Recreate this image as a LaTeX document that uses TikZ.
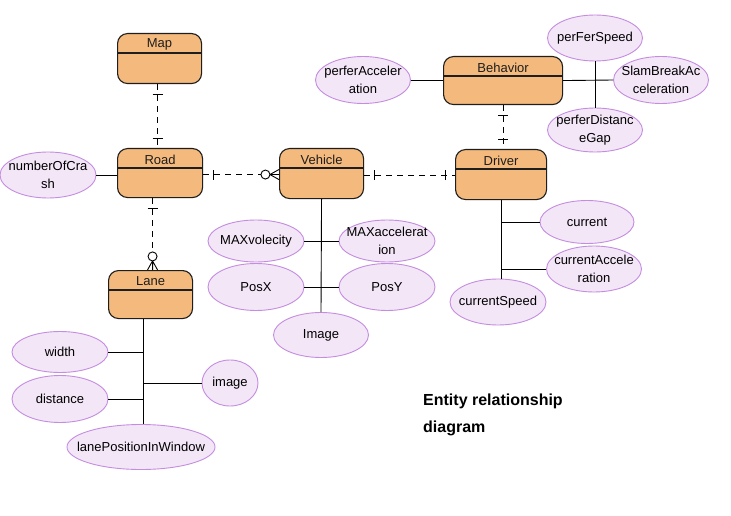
\documentclass[tikz,border=0pt]{standalone}
\usepackage{fontspec}
\setmainfont{Liberation Sans}
\usetikzlibrary{shapes.geometric,decorations.markings}
\definecolor{entfill}{HTML}{F4B97C}
\definecolor{attrfill}{HTML}{F3E6F7}
\definecolor{attrdraw}{HTML}{C58DE0}
\definecolor{edgecol}{HTML}{1E1E1E}
\tikzset{
 entity/.style={rectangle, draw=edgecol, line width=1.1pt, fill=entfill, rounded corners=10pt, inner sep=0pt, anchor=north west},
 enttext/.style={font=\fontsize{13}{15}\selectfont, inner sep=0pt, text=edgecol},
 attr/.style={ellipse, draw=attrdraw, line width=0.9pt, fill=attrfill, inner sep=0pt},
 attrtext/.style={font=\fontsize{13}{18}\selectfont, align=center, inner sep=0pt},
 conn/.style={draw=black, line width=0.9pt},
 reldash/.style={draw=black, line width=0.9pt, dash pattern=on 6pt off 5pt},
 rel11/.style={reldash, postaction={decorate, decoration={markings,
   mark=at position 10pt with {\draw[solid, line width=0.9pt] (0,-5pt) -- (0,5pt);},
   mark=at position -10pt with {\draw[solid, line width=0.9pt] (0,-5pt) -- (0,5pt);}}}},
 rel1zn/.style={reldash, postaction={decorate, decoration={markings,
   mark=at position 10pt with {\draw[solid, line width=0.9pt] (0,-5pt) -- (0,5pt);},
   mark=at position 0.999 with {\draw[solid, line width=0.9pt] (-9pt,0) -- (0,5pt) (-9pt,0) -- (0,-5pt) (-9pt,0) -- (0,0);
      \draw[solid, line width=0.9pt, fill=white] (-13.5pt,0) circle (4.5pt);}}}},
 titletext/.style={font=\bfseries\fontsize{16}{20}\selectfont, inner sep=0pt, anchor=base west}
}
\newcommand\erent[6]{%
 \node[entity, minimum width=#4pt, minimum height=#5pt] (#1) at (#2,#3) {};
 \draw[draw=edgecol, line width=1.1pt] ([yshift=-20pt]#1.north west) -- ([yshift=-20pt]#1.north east);
 \node[enttext] (#1-t) at ([yshift=-11.5pt]#1.north) {#6};}
\newcommand\erattr[6]{%
 \node[attr, minimum width=#4pt, minimum height=#5pt] (#1) at (#2,#3) {};
 \node[attrtext] (#1-t) at (#1.center) {#6};}
\begin{document}
\begin{tikzpicture}[x=1pt,y=-1pt]
\useasboundingbox[fill=white] (0,0) rectangle (731,516);
% entities
\erent{map}{117}{33}{84}{50}{Map}
\erent{road}{117}{148}{85}{49}{Road}
\erent{veh}{279}{148}{84}{50}{Vehicle}
\erent{drv}{455}{149}{91}{50}{Driver}
\erent{beh}{443}{56}{119}{48}{Behavior}
\erent{lane}{108}{270}{84}{48}{Lane}
% attributes
\erattr{noc}{48}{175}{96}{46}{numberOfCra\\sh}
\erattr{pa}{363}{80}{95}{47}{perferAcceler\\ation}
\erattr{pfs}{595}{38}{95}{46}{perFerSpeed}
\erattr{slam}{661}{80}{95}{47}{SlamBreakAc\\celeration}
\erattr{pdg}{595}{130}{95}{44}{perferDistanc\\eGap}
\erattr{mv}{256}{241}{96}{42}{MAXvolecity}
\erattr{ma}{387}{241}{96}{42}{MAXaccelerat\\ion}
\erattr{px}{256}{287}{96}{47}{PosX}
\erattr{py}{387}{287}{96}{47}{PosY}
\erattr{img}{321}{335}{95}{45}{Image}
\erattr{cur}{587}{222}{94}{43}{current}
\erattr{ca}{594}{269}{95}{46}{currentAccele\\ration}
\erattr{cs}{498}{302}{96}{46}{currentSpeed}
\erattr{wd}{60}{352}{96}{41}{width}
\erattr{dist}{60}{399}{96}{47}{distance}
\erattr{im}{230}{383}{56}{46}{image}
\erattr{lpw}{141}{447}{148}{45}{lanePositionInWindow}
% attribute connectors
\draw[conn] (noc.east) -- (noc.east -| road.west);
\draw[conn] (pa.east) -- (pa.east -| beh.west);
\draw[conn] (beh.east) -- (slam.west);
\draw[conn] (pfs.south) -- (pdg.north);
\draw[conn] (veh.south) -- (img.north);
\draw[conn] (mv.east) -- (ma.west);
\draw[conn] (px.east) -- (py.west);
\draw[conn] (drv.south) -- (drv.south |- cs.north);
\draw[conn] (drv.south |- cur.west) -- (cur.west);
\draw[conn] (drv.south |- ca.west) -- (ca.west);
\draw[conn] ([xshift=-7pt]lane.south) -- ([xshift=-7pt]lane.south |- lpw.north);
\draw[conn] (wd.east) -- ([xshift=-7pt]lane.south |- wd.east);
\draw[conn] (dist.east) -- ([xshift=-7pt]lane.south |- dist.east);
\draw[conn] (im.west) -- ([xshift=-7pt]lane.south |- im.west);
% relationships
\draw[rel11] ([xshift=-2pt]map.south) -- ([xshift=-2pt]map.south |- road.north);
\draw[rel1zn] ([yshift=-1.5pt]road.east) -- ([yshift=-1.5pt]road.east -| veh.west);
\draw[rel11] ([yshift=-1.5pt]veh.east) -- ([yshift=-1.5pt]veh.east -| drv.west);
\draw[rel11] (beh.south) -- (beh.south |- drv.north);
\draw[rel1zn] ([xshift=-7.5pt]road.south) -- ([xshift=-7.5pt]road.south |- lane.north);
% title
\node[titletext] (t1) at (423,405) {Entity relationship};
\node[titletext] (t2) at (423,432) {diagram};
\end{tikzpicture}
\end{document}
